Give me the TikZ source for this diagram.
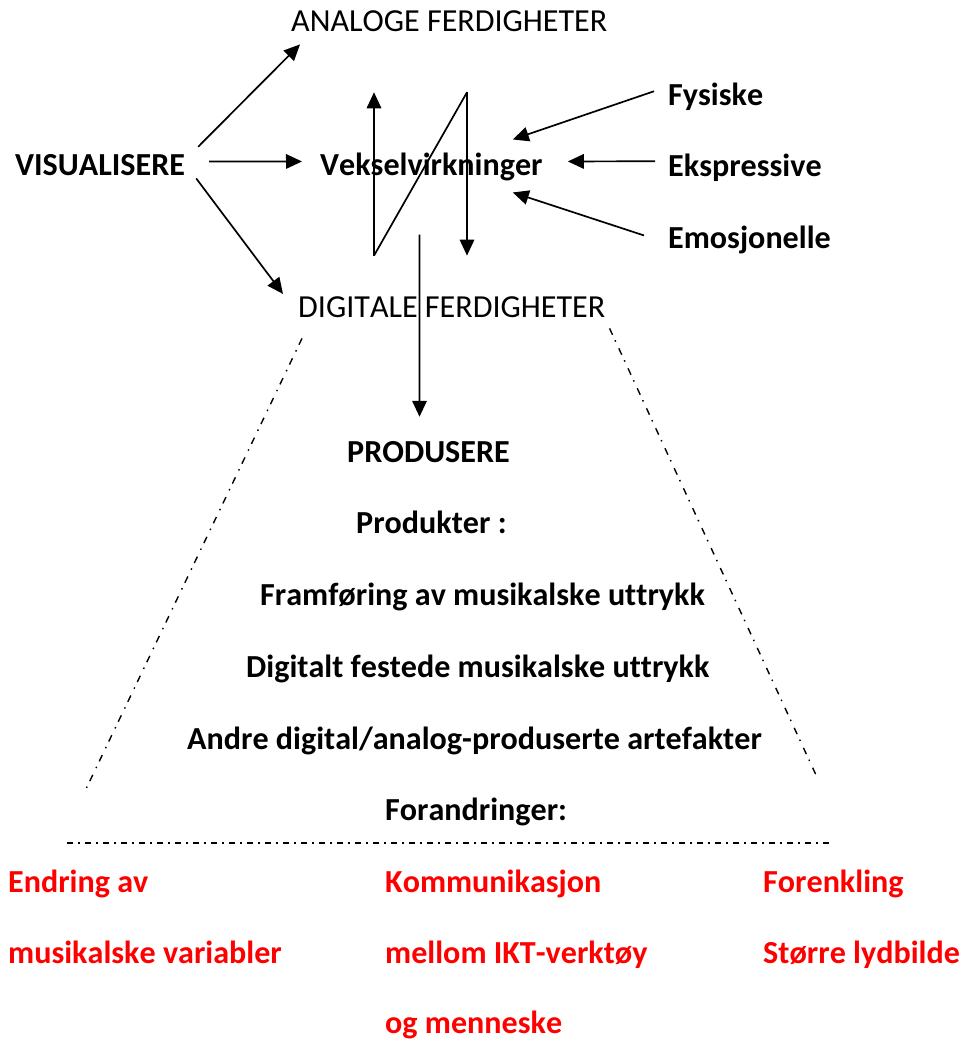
\documentclass[tikz,border=0pt]{standalone}
\usepackage{fontspec}
\setmainfont{Carlito}[Kerning=Off, Ligatures=CommonOff]
\usetikzlibrary{arrows.meta}
\begin{document}
\begin{tikzpicture}[x=1pt,y=-1pt,
  txt/.style={font=\fontsize{32.1}{38}\selectfont, inner sep=0pt, anchor=base west},
  btxt/.style={txt, font=\fontsize{32.1}{38}\selectfont\bfseries},
  rtxt/.style={btxt, text=red},
  arr/.style={line width=1.7pt, -{Triangle[length=16pt,width=14.5pt]}},
  link/.style={line width=1.7pt},
  dd/.style={line width=1.4pt, dash pattern=on 7pt off 6pt on 1.5pt off 7.5pt},
  ddh/.style={line width=1.4pt, dash pattern=on 6pt off 5pt on 1.5pt off 5.5pt}]
\useasboundingbox (0,0) rectangle (962,1041);

% upper part: skills and interplay
\node[txt]  (ana)  at (291,32)  {ANALOGE FERDIGHETER};
\node[btxt] (vis)  at (15,175)  {VISUALISERE};
\node[btxt] (vek)  at (320,175) {Vekselvirkninger};
\node[btxt] (fys)  at (668,105) {Fysiske};
\node[btxt] (eks)  at (668,176) {Ekspressive};
\node[btxt] (emo)  at (668,248) {Emosjonelle};
\node[txt]  (dig)  at (298,317) {DIGITALE FERDIGHETER};

% products
\node[btxt] (prod)  at (347,462) {PRODUSERE};
\node[btxt] (pk)    at (356,533) {Produkter :};
\node[btxt] (fram)  at (260,605) {Framføring av musikalske uttrykk};
\node[btxt] (digf)  at (246,677) {Digitalt festede musikalske uttrykk};
\node[btxt] (andre) at (187,749) {Andre digital/analog-produserte artefakter};
\node[btxt] (foran) at (385,820) {Forandringer:};

% changes
\node[rtxt] (r1a) at (8,892)   {Endring av};
\node[rtxt] (r1b) at (8,963)   {musikalske variabler};
\node[rtxt] (r2a) at (385,892) {Kommunikasjon};
\node[rtxt] (r2b) at (385,963) {mellom IKT-verktøy};
\node[rtxt] (r2c) at (385,1033) {og menneske};
\node[rtxt] (r3a) at (763,892) {Forenkling};
\node[rtxt] (r3b) at (763,963) {Større lydbilde};

% arrows from VISUALISERE
\draw[arr] ([shift={(13,-7)}]vis.north east) -- ([shift={(9,12)}]ana.south west);
\draw[arr] ([shift={(24,-3)}]vis.east) -- ([shift={(-18,-5)}]vek.west);
\draw[arr] ([shift={(11,3)}]vis.south east) -- ([shift={(-15,-2)}]dig.north west);

% zigzag of interplay
\coordinate (zbl) at ([shift={(54,75)}]vek.south west);
\coordinate (ztl) at ([shift={(54,-60)}]vek.north west);
\coordinate (ztr) at ([shift={(147,-60)}]vek.north west);
\coordinate (zbr) at ([shift={(147,75)}]vek.south west);
\draw[arr] (zbl) -- (ztl);
\draw[link] (zbl) -- (ztr);
\draw[arr] (ztr) -- (zbr);

% down to PRODUSERE
\draw[arr] ([shift={(-12,54)}]vek.south) -- ([shift={(-9,-24)}]prod.north);

% inputs on the right
\draw[arr] ([shift={(-14,-5)}]fys.west) -- ([shift={(-30,-27)}]vek.east);
\draw[arr] ([shift={(-13,-6)}]eks.west) -- ([shift={(25,-5)}]vek.east);
\draw[arr] ([shift={(-24,-4)}]emo.west) -- ([shift={(-30,26)}]vek.east);

% dash-dotted frame
\coordinate (fl) at (86,789);
\coordinate (fr) at (816,775);
\coordinate (hl) at (67,843);
\coordinate (hr) at (832,843);
\draw[dd] ([shift={(4,21)}]dig.south west) -- (fl);
\draw[dd] ([shift={(4,11)}]dig.south east) -- (fr);
\draw[ddh] (hl) -- (hr);
\end{tikzpicture}
\end{document}
